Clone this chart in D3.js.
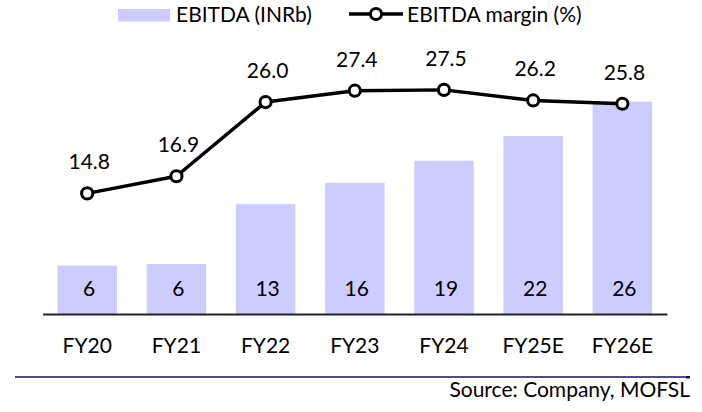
<!DOCTYPE html>
<html>
<head>
<meta charset="utf-8">
<script src="https://cdn.jsdelivr.net/npm/d3@7"></script>
<style>
  html, body { margin: 0; padding: 0; background: #fff; }
  svg { display: block; font-family: Lato, "Open Sans", sans-serif; }
</style>
</head>
<body>
<svg id="chart" width="702" height="412"></svg>
<script>
const categories = ["FY20", "FY21", "FY22", "FY23", "FY24", "FY25E", "FY26E"];
const ebitda = [5.9, 6.1, 13.4, 16.0, 18.7, 21.7, 25.9];
const margin = [14.8, 16.9, 26.0, 27.4, 27.5, 26.2, 25.8];
const legendLabels = ["EBITDA (INRb)", "EBITDA margin (%)"];
const sourceText = "Source: Company, MOFSL";

const svg = d3.select("#chart");
const FS = 21;
const barColor = "#CCCCFF";
const textColor = "#000";

const x = d3.scaleBand().domain(categories).range([42.6, 667])
  .paddingInner(0.333).paddingOuter(0.1667);
const y = d3.scaleLinear().domain([0, 35]).range([314, 27]);
const y2 = d3.scaleLinear().domain([0, 35]).range([314, 28.75]);

// bars
svg.append("g").selectAll("rect").data(ebitda).join("rect")
  .attr("x", (d, i) => x(categories[i]))
  .attr("y", d => y(d))
  .attr("width", x.bandwidth())
  .attr("height", d => y(0) - y(d))
  .attr("fill", barColor);

// bar labels
svg.append("g").selectAll("text").data(ebitda).join("text")
  .attr("x", (d, i) => x(categories[i]) + x.bandwidth() / 2 + 2)
  .attr("y", y(0) - 18)
  .attr("text-anchor", "middle")
  .attr("font-size", FS)
  .attr("fill", textColor)
  .text(d => d3.format(".0f")(d));

// x axis
const axis = svg.append("g").attr("transform", `translate(0,${y(0)})`)
  .call(d3.axisBottom(x).tickSize(0).tickSizeOuter(0));
axis.select(".domain").attr("stroke", "#222").attr("stroke-width", 2);
axis.selectAll("text")
  .attr("y", 39).attr("dy", 0)
  .attr("font-size", FS)
  .attr("font-family", "Lato, 'Open Sans', sans-serif")
  .attr("fill", textColor);

// line
const line = d3.line()
  .x((d, i) => x(categories[i]) + x.bandwidth() / 2)
  .y(d => y2(d));
svg.append("path").datum(margin)
  .attr("d", line)
  .attr("fill", "none")
  .attr("stroke", "#000")
  .attr("stroke-width", 3.5)
  .attr("stroke-linejoin", "round");

svg.append("g").selectAll("circle").data(margin).join("circle")
  .attr("cx", (d, i) => x(categories[i]) + x.bandwidth() / 2)
  .attr("cy", d => y2(d))
  .attr("r", 5.6)
  .attr("fill", "#fff")
  .attr("stroke", "#000")
  .attr("stroke-width", 3);

svg.append("g").selectAll("text").data(margin).join("text")
  .attr("x", (d, i) => x(categories[i]) + x.bandwidth() / 2 + 2)
  .attr("y", d => y2(d) - 24)
  .attr("text-anchor", "middle")
  .attr("font-size", FS)
  .attr("fill", textColor)
  .text(d => d3.format(".1f")(d));

// legend
const lg = svg.append("g");
lg.append("rect").attr("x", 118).attr("y", 9).attr("width", 52).attr("height", 12.5).attr("fill", barColor);
lg.append("text").attr("x", 176).attr("y", 21.5).attr("font-size", FS).attr("fill", textColor).text(legendLabels[0]);
lg.append("line").attr("x1", 349).attr("x2", 403).attr("y1", 14).attr("y2", 14)
  .attr("stroke", "#000").attr("stroke-width", 3.5);
lg.append("circle").attr("cx", 376).attr("cy", 14).attr("r", 5.6)
  .attr("fill", "#fff").attr("stroke", "#000").attr("stroke-width", 3);
lg.append("text").attr("x", 407).attr("y", 21.5).attr("font-size", FS).attr("fill", textColor).text(legendLabels[1]);

// bottom rule and source
svg.append("line").attr("x1", 15).attr("x2", 690).attr("y1", 377).attr("y2", 377)
  .attr("stroke", "#140c78").attr("stroke-width", 1.6);
svg.append("rect").attr("x", 686).attr("y", 376).attr("width", 4).attr("height", 2.5).attr("fill", "#140c78");
svg.append("text").attr("x", 690).attr("y", 397).attr("text-anchor", "end")
  .attr("font-size", FS).attr("fill", textColor).text(sourceText);
</script>
</body>
</html>
